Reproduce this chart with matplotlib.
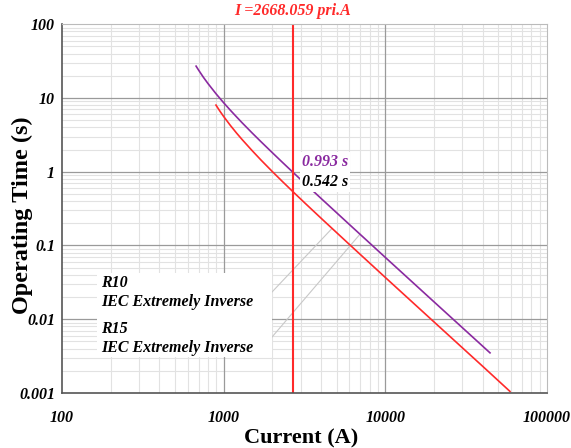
import matplotlib
matplotlib.use("Agg")
import matplotlib.pyplot as plt
from matplotlib.ticker import LogLocator, FixedLocator, FixedFormatter, NullFormatter

plt.rcParams['font.family'] = ['Liberation Serif', 'DejaVu Serif']

# curve R10 (red)
r10_current = [896, 950, 1000, 1100, 1200, 1300, 1500, 1700, 2000, 2300, 2668.059,
               3200, 4000, 6000, 10000, 20000, 40000, 59000]
r10_time = [8.0, 6.57, 5.6, 4.24, 3.35, 2.73, 1.93, 1.442, 1.004, 0.742, 0.542,
            0.371, 0.2345, 0.103, 0.0368, 0.00919, 0.0023, 0.00105]

# curve R15 (purple)
r15_current = [675, 700, 750, 800, 900, 1000, 1100, 1200, 1300, 1500, 1700, 2000, 2300,
               2668.059, 3200, 4000, 6000, 10000, 20000, 44400]
r15_time = [27.0, 23.8, 19.0, 15.66, 11.28, 8.6, 6.81, 5.55, 4.61, 3.35, 2.555, 1.81, 1.35,
            0.993, 0.684, 0.435, 0.192, 0.0688, 0.0172, 0.0035]

fault_current = 2668.059
t_labels = ["0.993 s", "0.542 s"]
legend_names = ["R10", "IEC Extremely Inverse", "R15", "IEC Extremely Inverse"]

# leader lines from legend to curves
lead1_x = [1991, 4677]
lead1_y = [0.0234, 0.17]
lead2_x = [1991, 6966]
lead2_y = [0.00574, 0.142]

xticks = [100, 1000, 10000, 100000]
xlabels = ["100", "1000", "10000", "100000"]
yticks = [0.001, 0.01, 0.1, 1, 10, 100]
ylabels = ["0.001", "0.01", "0.1", "1", "10", "100"]

red = '#ff2a2a'
purple = '#8a2aa0'

fig = plt.figure(figsize=(5.71, 4.48), dpi=100)
ax = fig.add_axes([0.1086, 0.1228, 0.8494, 0.8232])
ax.set_xscale('log')
ax.set_yscale('log')
ax.set_xlim(100, 100000)
ax.set_ylim(0.001, 100)

ax.xaxis.set_major_locator(FixedLocator(xticks))
ax.xaxis.set_major_formatter(FixedFormatter(xlabels))
ax.yaxis.set_major_locator(FixedLocator(yticks))
ax.yaxis.set_major_formatter(FixedFormatter(ylabels))
ax.xaxis.set_minor_locator(LogLocator(base=10, subs=range(2, 10)))
ax.yaxis.set_minor_locator(LogLocator(base=10, subs=range(2, 10)))
ax.xaxis.set_minor_formatter(NullFormatter())
ax.yaxis.set_minor_formatter(NullFormatter())

ax.grid(which='minor', color='#e2e2e2', linewidth=0.8)
ax.set_axisbelow(True)
for xv in xticks[1:-1]:
    ax.axvline(xv, color='#9a9a9a', linewidth=0.9, zorder=0.6)
for yv in yticks[1:-1]:
    ax.axhline(yv, color='#9a9a9a', linewidth=0.9, zorder=0.6)

for side in ['left', 'bottom']:
    ax.spines[side].set_color('#555555')
    ax.spines[side].set_linewidth(1.2)
for side in ['top', 'right']:
    ax.spines[side].set_color('#bbbbbb')

ax.tick_params(which='both', length=0)
for lab in ax.get_xticklabels() + ax.get_yticklabels():
    lab.set_fontweight('bold')
    lab.set_fontstyle('italic')
    lab.set_fontsize(11.5)
ax.tick_params(axis='x', pad=12)
ax.tick_params(axis='y', pad=5)

ax.plot(lead1_x, lead1_y, color='#c8c8c8', linewidth=0.8)
ax.plot(lead2_x, lead2_y, color='#c8c8c8', linewidth=0.8)

ax.plot(r15_current, r15_time, color=purple, linewidth=1.2)
ax.plot(r10_current, r10_time, color=red, linewidth=1.2)
ax.axvline(fault_current, color=red, linewidth=1.5)

ax.text(fault_current, 1.015, "I =" + str(fault_current) + " pri.A", transform=ax.get_xaxis_transform(),
        ha='center', va='bottom', color=red, fontsize=11.5, fontweight='bold', fontstyle='italic')

bbox = dict(facecolor='white', edgecolor='none', pad=1.5)
ax.text(0.495, 0.625, t_labels[0], transform=ax.transAxes, color=purple, fontsize=11.5,
        fontweight='bold', fontstyle='italic', va='center', ha='left', bbox=bbox)
ax.text(0.495, 0.571, t_labels[1], transform=ax.transAxes, color='black', fontsize=11.5,
        fontweight='bold', fontstyle='italic', va='center', ha='left', bbox=bbox)

# legend box
ax.add_patch(plt.Rectangle((0.072, 0.098), 0.361, 0.227, transform=ax.transAxes,
                           facecolor='white', edgecolor='none', zorder=3))
legend_y = [0.298, 0.247, 0.173, 0.122]
for txt, yy in zip(legend_names, legend_y):
    ax.text(0.080, yy, txt, transform=ax.transAxes, fontsize=11.5, fontweight='bold',
            fontstyle='italic', va='center', ha='left', zorder=4)

ax.set_xlabel("Current (A)", fontsize=16, fontweight='bold')
ax.set_ylabel("Operating Time (s)", fontsize=17.5, fontweight='bold')
ax.xaxis.set_label_coords(0.493, -0.095)
ax.yaxis.set_label_coords(-0.060, 0.482)

fig.savefig("out.png", dpi=100)
